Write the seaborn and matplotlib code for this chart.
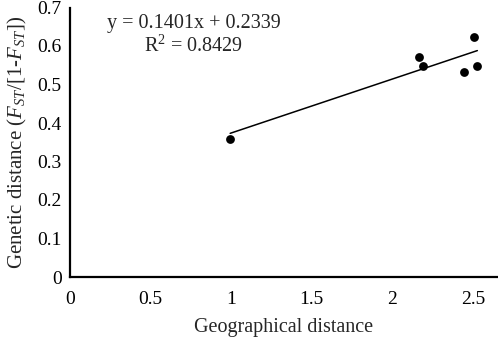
import numpy as np
import pandas as pd
import matplotlib
matplotlib.use("Agg")
import matplotlib.pyplot as plt
import seaborn as sns

# values
geo_distance = [0.994, 2.168, 2.191, 2.443, 2.509, 2.528]
genetic_distance = [0.358, 0.571, 0.547, 0.532, 0.624, 0.548]
slope = 0.1401
intercept = 0.2339
r_squared = 0.8429
x_ticks = [0, 0.5, 1, 1.5, 2, 2.5]
x_tick_labels = ["0", "0.5", "1", "1.5", "2", "2.5"]
y_ticks = [0, 0.1, 0.2, 0.3, 0.4, 0.5, 0.6, 0.7]
y_tick_labels = ["0", "0.1", "0.2", "0.3", "0.4", "0.5", "0.6", "0.7"]

df = pd.DataFrame({"geo": geo_distance, "gen": genetic_distance})

sns.set_style("white")
plt.rcParams["font.family"] = ["Liberation Serif", "DejaVu Serif"]
plt.rcParams["mathtext.fontset"] = "custom"
plt.rcParams["mathtext.rm"] = "Liberation Serif"
plt.rcParams["mathtext.it"] = "Liberation Serif:italic"

fig = plt.figure(figsize=(4.98, 3.39), dpi=100)
ax = fig.add_axes([70 / 498, 62 / 339, 427 / 498, 269.5 / 339])

# trend line from the fitted equation, over the data range
line_x = np.array([min(geo_distance), max(geo_distance)])
sns.lineplot(x=line_x, y=slope * line_x + intercept, color="black",
             linewidth=1.1, ax=ax)
sns.scatterplot(data=df, x="geo", y="gen", color="black", s=40,
                edgecolor="black", linewidth=0, ax=ax, zorder=3)

ax.set_xlim(0, 2.65)
ax.set_ylim(0, 0.7)
ax.set_xticks(x_ticks)
ax.set_xticklabels(x_tick_labels)
ax.set_yticks(y_ticks)
ax.set_yticklabels(y_tick_labels)
ax.tick_params(axis="both", length=0, labelsize=14, colors="black")
ax.tick_params(axis="x", pad=10)
ax.tick_params(axis="y", pad=6)

for side in ["top", "right"]:
    ax.spines[side].set_visible(False)
for side in ["left", "bottom"]:
    ax.spines[side].set_color("black")
    ax.spines[side].set_linewidth(1.6)

ax.set_xlabel("Geographical distance", fontsize=14.5, labelpad=7)
ax.set_ylabel(r"Genetic distance ($\mathit{F}_{ST}$/[1-$\mathit{F}_{ST}$])",
              fontsize=15, labelpad=6)

ax.text(0.29, 0.897,
        f"y = {slope}x + {intercept}\nR$^2$ = {r_squared}",
        transform=ax.transAxes, ha="center", va="center",
        fontsize=14.5, linespacing=1.15)

fig.savefig("out.png", dpi=100)
